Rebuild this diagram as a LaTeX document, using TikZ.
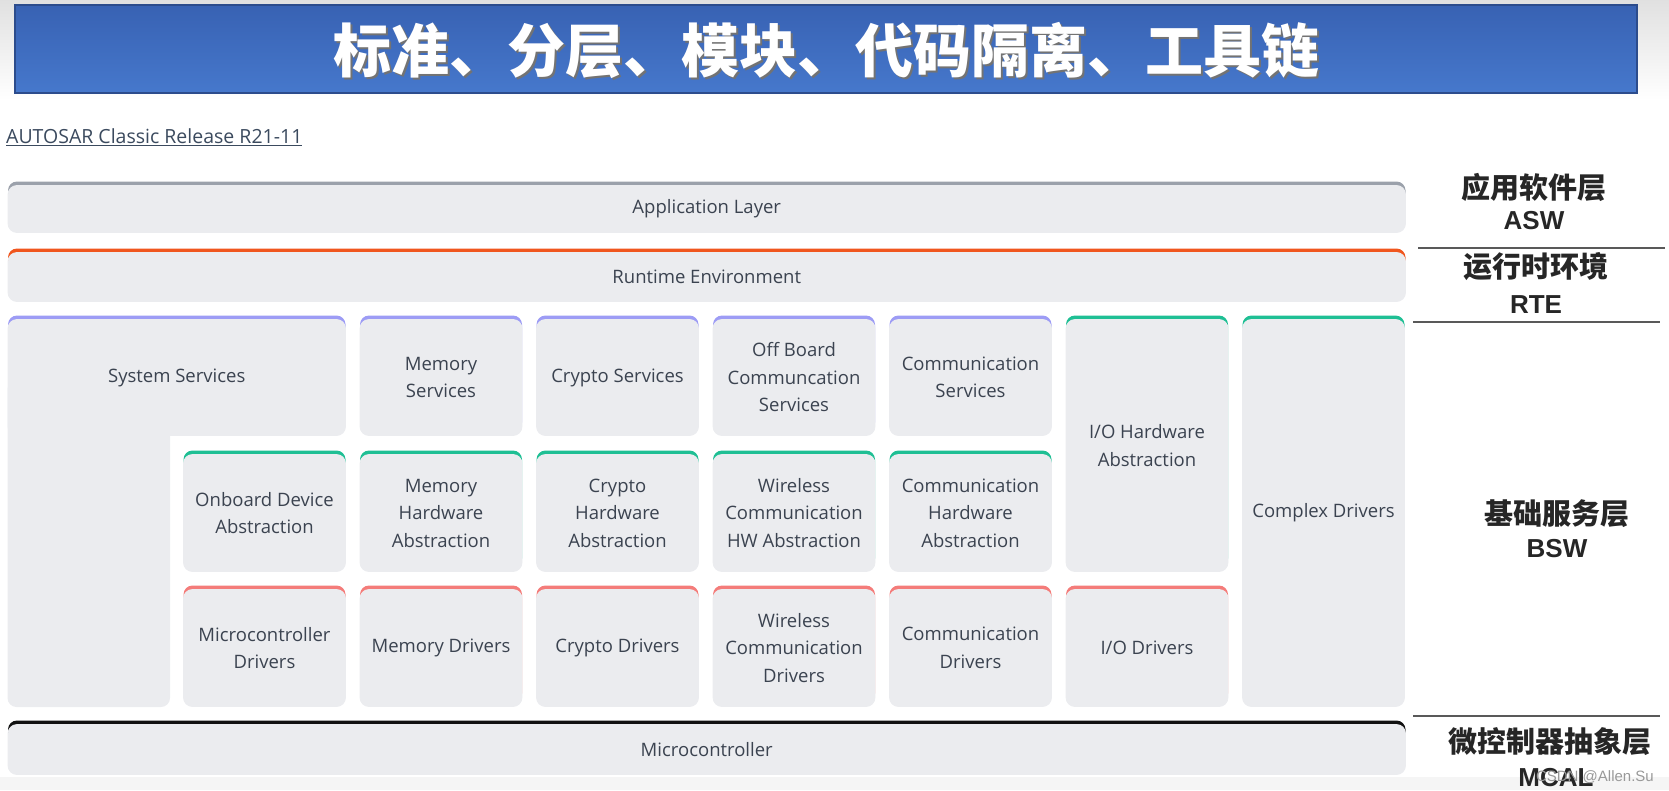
\documentclass[tikz,border=0pt]{standalone}
\usepackage{fontspec}
\setmainfont{Open Sans}
\newfontfamily\cjk{Noto Sans CJK SC}
\newfontfamily\arialfont{Liberation Sans}

\definecolor{boxgray}{HTML}{EBECEF}
\definecolor{boxtext}{HTML}{3B4350}
\definecolor{appgray}{HTML}{9BA1AB}
\definecolor{rteorange}{HTML}{F0561E}
\definecolor{svcpurple}{HTML}{9D9CF5}
\definecolor{hwteal}{HTML}{1FBF94}
\definecolor{drvred}{HTML}{F47C7A}
\definecolor{mcublack}{HTML}{111111}
\definecolor{bannertop}{HTML}{3862B3}
\definecolor{bannerbot}{HTML}{4678CC}
\definecolor{bannerline}{HTML}{2C4C8C}
\definecolor{sidetext}{HTML}{262626}
\definecolor{linktext}{HTML}{3B4A5E}

\newcommand\boxfont{\fontsize{18.5}{27.5}\selectfont}

\tikzset{
  layer/.style={rectangle, rounded corners=9pt, fill=boxgray, draw=boxgray, line width=0.8pt,
    text=boxtext, align=center, inner sep=0pt, font=\boxfont},
  accent/.style={preaction={fill=#1, draw=none, transform canvas={yshift=4pt}}},
  cell/.style={layer, minimum width=162pt, minimum height=117pt},
  widebar/.style={layer, minimum width=1397.5pt},
  cnlabel/.style={text=sidetext, inner sep=0pt, font=\cjk\bfseries\fontsize{29}{29}\selectfont},
  enlabel/.style={text=sidetext, inner sep=0pt, font=\arialfont\bfseries\fontsize{26}{26}\selectfont},
  sepline/.style={draw=black!65, line width=1.4pt},
}

\begin{document}
\begin{tikzpicture}[x=1pt, y=-1pt]
\useasboundingbox (0,0) rectangle (1669,790);

% page background
\shade[top color=black!12, bottom color=white] (0,0) rectangle (1669,100);
\fill[black!4] (0,777) rectangle (1669,790);

% banner
\shade[top color=bannertop, bottom color=bannerbot, draw=bannerline, line width=1.5pt] (15,5) rectangle (1637,93);
\node[text=black!55, inner sep=0pt, font=\cjk\bfseries\fontsize{58}{58}\selectfont] (title-shadow) at (828.5,52.5) {标准、分层、模块、代码隔离、工具链};
\node[text=white, inner sep=0pt, font=\cjk\bfseries\fontsize{58}{58}\selectfont] (title) at (826,50) {标准、分层、模块、代码隔离、工具链};

\node[anchor=west, text=linktext, inner sep=0pt, font=\fontsize{19.5}{19.5}\selectfont] (release) at (6,137) {\underline{AUTOSAR Classic Release R21-11}};

% layers
\node[widebar, accent=appgray, minimum height=47pt] (app) at (706.75,209) {Application Layer};
\node[widebar, accent=rteorange, minimum height=49pt] (rte) at (706.75,277) {Runtime Environment};

% basic software
\fill[boxgray, rounded corners=9pt] (7.5,380) rectangle (170,707);
\node[layer, accent=svcpurple, minimum width=337.5pt, minimum height=116pt] (sys-svc) at (176.75,377.5) {System Services};
\node[cell, accent=svcpurple, minimum height=116pt] (mem-svc) at (441,377.5) {Memory\\Services};
\node[cell, accent=svcpurple, minimum height=116pt] (cry-svc) at (617.5,377.5) {Crypto Services};
\node[cell, accent=svcpurple, minimum height=116pt] (off-svc) at (794,377.5) {Off Board\\Communcation\\Services};
\node[cell, accent=svcpurple, minimum height=116pt] (com-svc) at (970.5,377.5) {Communication\\Services};

\node[cell, accent=hwteal] (onb-hw) at (264.5,513) {Onboard Device\\Abstraction};
\node[cell, accent=hwteal] (mem-hw) at (441,513) {Memory\\Hardware\\Abstraction};
\node[cell, accent=hwteal] (cry-hw) at (617.5,513) {Crypto\\Hardware\\Abstraction};
\node[cell, accent=hwteal] (wls-hw) at (794,513) {Wireless\\Communication\\HW Abstraction};
\node[cell, accent=hwteal] (com-hw) at (970.5,513) {Communication\\Hardware\\Abstraction};
\node[cell, accent=hwteal, minimum height=252pt] (io-hw) at (1147,445.5) {I/O Hardware\\Abstraction};
\node[cell, accent=hwteal, minimum height=387pt] (cdd) at (1323.5,513) {Complex Drivers};

\node[cell, accent=drvred] (mcu-drv) at (264.5,648) {Microcontroller\\Drivers};
\node[cell, accent=drvred] (mem-drv) at (441,648) {Memory Drivers};
\node[cell, accent=drvred] (cry-drv) at (617.5,648) {Crypto Drivers};
\node[cell, accent=drvred] (wls-drv) at (794,648) {Wireless\\Communication\\Drivers};
\node[cell, accent=drvred] (com-drv) at (970.5,648) {Communication\\Drivers};
\node[cell, accent=drvred] (io-drv) at (1147,648) {I/O Drivers};

\node[widebar, accent=mcublack, minimum height=50pt] (mcu) at (706.75,749.5) {Microcontroller};

% layer names
\node[cnlabel] (asw-cn) at (1534,187) {应用软件层};
\node[enlabel] (asw-en) at (1534,221) {ASW};
\draw[sepline] (1418,248) -- (1665,248);
\node[cnlabel] (rte-cn) at (1536,267) {运行时环境};
\node[enlabel] (rte-en) at (1536,305) {RTE};
\draw[sepline] (1413,322) -- (1660,322);
\node[cnlabel] (bsw-cn) at (1557,514) {基础服务层};
\node[enlabel] (bsw-en) at (1557,549) {BSW};
\draw[sepline] (1413,716) -- (1660,716);
\node[cnlabel] (mcal-cn) at (1550,742) {微控制器抽象层};
\node[enlabel] (mcal-en) at (1556,778) {MCAL};
\node[anchor=east, text=black!40, inner sep=0pt, font=\arialfont\fontsize{15}{15}\selectfont] (mark) at (1654,777) {CSDN @Allen.Su};

\end{tikzpicture}
\end{document}
